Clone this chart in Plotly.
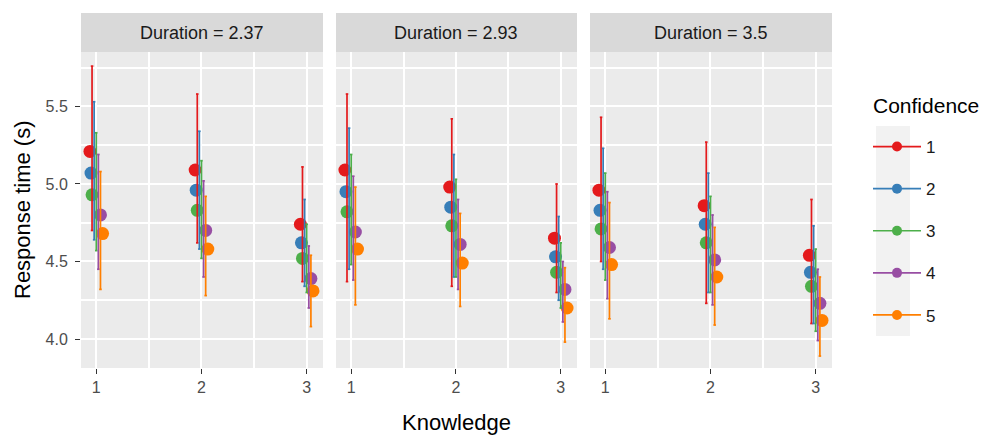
import plotly.graph_objects as go

# ---------------- data ----------------
durations = ["2.37", "2.93", "3.5"]
knowledge = [1, 2, 3]
confidence = ["1", "2", "3", "4", "5"]
y_ticks = [4.0, 4.5, 5.0, 5.5]
y_tick_labels = ["4.0", "4.5", "5.0", "5.5"]

# rows = knowledge 1..3, columns = confidence 1..5
mean_237 = [[5.21, 5.07, 4.93, 4.80, 4.68],
            [5.09, 4.96, 4.83, 4.70, 4.58],
            [4.74, 4.62, 4.52, 4.39, 4.31]]
upper_237 = [[5.76, 5.53, 5.33, 5.19, 5.08],
             [5.58, 5.34, 5.15, 5.02, 4.92],
             [5.11, 4.90, 4.74, 4.60, 4.54]]
lower_237 = [[4.70, 4.64, 4.57, 4.45, 4.32],
             [4.62, 4.58, 4.52, 4.40, 4.28],
             [4.37, 4.34, 4.30, 4.20, 4.08]]

mean_293 = [[5.09, 4.95, 4.82, 4.69, 4.58],
            [4.98, 4.85, 4.73, 4.61, 4.49],
            [4.65, 4.53, 4.43, 4.32, 4.20]]
upper_293 = [[5.58, 5.36, 5.19, 5.05, 4.98],
             [5.42, 5.19, 5.03, 4.90, 4.81],
             [5.00, 4.79, 4.62, 4.50, 4.46]]
lower_293 = [[4.37, 4.45, 4.48, 4.38, 4.22],
             [4.34, 4.40, 4.40, 4.32, 4.21],
             [4.30, 4.25, 4.20, 4.11, 3.98]]

mean_350 = [[4.96, 4.83, 4.71, 4.59, 4.48],
            [4.86, 4.74, 4.62, 4.51, 4.40],
            [4.54, 4.43, 4.34, 4.23, 4.12]]
upper_350 = [[5.43, 5.23, 5.07, 4.95, 4.88],
             [5.27, 5.07, 4.92, 4.80, 4.72],
             [4.90, 4.73, 4.58, 4.45, 4.40]]
lower_350 = [[4.50, 4.45, 4.38, 4.26, 4.13],
             [4.23, 4.30, 4.30, 4.22, 4.09],
             [4.10, 4.10, 4.05, 3.99, 3.89]]

# ---------------- style ----------------
colors = ["#E41A1C", "#377EB8", "#4DAF4A", "#984EA3", "#FF7F00"]
point_dodge = [-0.06, -0.05, -0.04, 0.04, 0.06]
bar_dodge = [-0.04, -0.02, 0.0, 0.02, 0.04]
cap = 0.012
FONT = "Liberation Sans, Arial, sans-serif"

# the page body has an 8px margin; size the figure so it fills the window
OFF = 8
FW, FH = 989 - OFF, 437 - OFF


def px_x(x):
    return (x - OFF) / FW


def px_y(y):
    return 1 - (y - OFF) / FH


x_domains = [(px_x(81), px_x(323)), (px_x(336), px_x(577)), (px_x(590), px_x(832))]
y_domain = (px_y(368), px_y(52))
strip_top = px_y(13)

panels = [(durations[0], mean_237, upper_237, lower_237),
          (durations[1], mean_293, upper_293, lower_293),
          (durations[2], mean_350, upper_350, lower_350)]

fig = go.Figure()

for p, (dur, m, u, l) in enumerate(panels):
    xa = "x" if p == 0 else f"x{p + 1}"
    ya = "y" if p == 0 else f"y{p + 1}"
    for c in range(len(confidence)):
        fig.add_trace(go.Scatter(
            x=[k + point_dodge[c] for k in knowledge],
            y=[m[i][c] for i in range(len(knowledge))],
            mode="markers", xaxis=xa, yaxis=ya, showlegend=False,
            marker=dict(color=colors[c], size=13, line=dict(width=0)),
            hoverinfo="skip"))
    for c in range(len(confidence)):
        bx, by = [], []
        for i, k in enumerate(knowledge):
            xc = k + bar_dodge[c]
            bx += [xc, xc, None, xc - cap, xc + cap, None, xc - cap, xc + cap, None]
            by += [l[i][c], u[i][c], None, u[i][c], u[i][c], None, l[i][c], l[i][c], None]
        fig.add_trace(go.Scatter(
            x=bx, y=by, mode="lines", xaxis=xa, yaxis=ya, showlegend=False,
            line=dict(color=colors[c], width=1.7), hoverinfo="skip"))

for c, name in enumerate(confidence):
    fig.add_trace(go.Scatter(
        x=[None], y=[None], mode="lines+markers", name=name,
        legendgroup=name, marker=dict(color=colors[c], size=10),
        line=dict(color=colors[c], width=1.7)))

axis_common = dict(showline=False, zeroline=False, gridcolor="white",
                   gridwidth=2, ticks="outside", ticklen=5, tickcolor="#333333",
                   tickwidth=1.4, tickfont=dict(family=FONT, size=16, color="#4D4D4D"))

layout = dict(
    width=FW, height=FH, margin=dict(l=0, r=0, t=0, b=0),
    paper_bgcolor="white", plot_bgcolor="#EBEBEB",
    font=dict(family=FONT),
    showlegend=True,
    legend=dict(x=px_x(868), xanchor="left", y=px_y(129), yanchor="top",
                bgcolor="rgba(0,0,0,0)", tracegroupgap=17,
                font=dict(family=FONT, size=17, color="#1A1A1A"), itemwidth=48),
)

shapes = []
annotations = []
for p in range(3):
    sx = "" if p == 0 else str(p + 1)
    layout[f"xaxis{sx}"] = dict(
        axis_common, domain=list(x_domains[p]), range=[0.855, 3.155],
        tickvals=knowledge, ticktext=[str(k) for k in knowledge],
        anchor=f"y{sx}",
        minor=dict(tickvals=[1.5, 2.5], showgrid=True, gridcolor="white", gridwidth=1.5, ticks=""))
    layout[f"yaxis{sx}"] = dict(
        axis_common, domain=list(y_domain), range=[3.813, 5.851],
        tickvals=y_ticks, ticktext=y_tick_labels, anchor=f"x{sx}",
        showticklabels=(p == 0), ticks="outside" if p == 0 else "",
        ticklabelstandoff=4,
        minor=dict(tickvals=[3.75, 4.25, 4.75, 5.25, 5.75], showgrid=True,
                   gridcolor="white", gridwidth=1.5, ticks=""))
    shapes.append(dict(type="rect", xref="paper", yref="paper",
                       x0=x_domains[p][0], x1=x_domains[p][1],
                       y0=y_domain[1], y1=strip_top,
                       fillcolor="#D9D9D9", line=dict(width=0), layer="below"))
    annotations.append(dict(text=f"Duration = {panels[p][0]}", xref="paper", yref="paper",
                            x=(x_domains[p][0] + x_domains[p][1]) / 2,
                            y=(y_domain[1] + strip_top) / 2, showarrow=False,
                            font=dict(family=FONT, size=18, color="#1A1A1A"),
                            xanchor="center", yanchor="middle"))

shapes.append(dict(type="rect", xref="paper", yref="paper",
                   x0=px_x(876), x1=px_x(910), y0=px_y(336), y1=px_y(126),
                   fillcolor="#F2F2F2", line=dict(width=0), layer="below"))

annotations.append(dict(text="Confidence", xref="paper", yref="paper",
                        x=px_x(871), y=px_y(105), showarrow=False,
                        xanchor="left", yanchor="middle",
                        font=dict(family=FONT, size=21, color="#000000")))
annotations.append(dict(text="Knowledge", xref="paper", yref="paper",
                        x=px_x(456), y=px_y(422),
                        showarrow=False, xanchor="center", yanchor="middle",
                        font=dict(family=FONT, size=22, color="#000000")))
annotations.append(dict(text="Response time (s)", xref="paper", yref="paper",
                        x=px_x(22), y=px_y(210), textangle=-90,
                        showarrow=False, xanchor="center", yanchor="middle",
                        font=dict(family=FONT, size=22, color="#000000")))

layout["shapes"] = shapes
layout["annotations"] = annotations
fig.update_layout(**layout)

fig.write_html("out.html")
